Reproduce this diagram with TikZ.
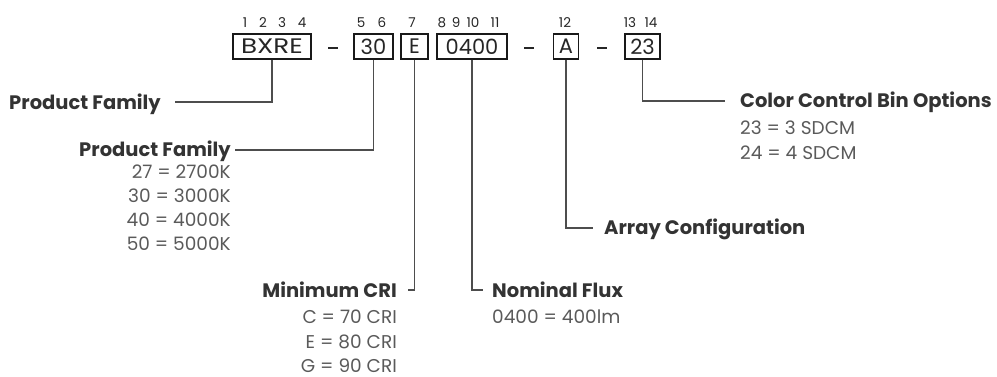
\documentclass[tikz,border=0pt]{standalone}
\usepackage{fontspec}
\setmainfont{Poppins}
\definecolor{lbl}{HTML}{333333}
\definecolor{val}{HTML}{5A5A5A}
\definecolor{ln}{HTML}{4D4D4D}
\begin{document}
\begin{tikzpicture}[x=1pt,y=-1pt,
  codebox/.style={draw=black!90, line width=1.4pt, inner sep=0pt, minimum height=25pt,
     font=\fontsize{21}{21}\selectfont, text=black!85},
  digit/.style={inner sep=0pt, anchor=base, font=\fontsize{13.5}{13.5}\selectfont, text=black!85},
  title/.style={inner sep=0pt, font=\bfseries\fontsize{19.5}{19.5}\selectfont, text=lbl},
  value/.style={inner sep=0pt, font=\fontsize{18.5}{18.5}\selectfont, text=val},
  conn/.style={draw=ln, line width=1.3pt},
  sep/.style={draw=black!85, line width=1.8pt}
]
\useasboundingbox (0,0) rectangle (997,377);
% code boxes
\node[codebox, minimum width=78pt] (bxre) at (272,46.5) {\addfontfeature{FakeStretch=1.25}BXRE};
\node[codebox, minimum width=39pt] (cct) at (373.5,46.5) {30};
\node[codebox, minimum width=27pt] (cri) at (414.5,46.5) {E};
\node[codebox, minimum width=70pt] (flux) at (472,46.5) {0400};
\node[codebox, minimum width=25pt] (arr) at (566,46.5) {A};
\node[codebox, minimum width=35pt] (bin) at (642.5,46.5) {23};
% separators
\coordinate (d1a) at (328,48); \coordinate (d1b) at (338,48);
\coordinate (d2a) at (524,48); \coordinate (d2b) at (534,48);
\coordinate (d3a) at (597,48); \coordinate (d3b) at (607,48);
\draw[sep] (d1a) -- (d1b);
\draw[sep] (d2a) -- (d2b);
\draw[sep] (d3a) -- (d3b);
% position digits
\node[digit] (n1) at (245,28) {1};
\node[digit] (n2) at (263,28) {2};
\node[digit] (n3) at (282,28) {3};
\node[digit] (n4) at (302,28) {4};
\node[digit] (n5) at (361,28) {5};
\node[digit] (n6) at (382,28) {6};
\node[digit] (n7) at (412,28) {7};
\node[digit] (n8) at (442,28) {8};
\node[digit] (n9) at (456,28) {9};
\node[digit] (n10) at (473,28) {10};
\node[digit] (n11) at (495,28) {11};
\node[digit] (n12) at (565,28) {12};
\node[digit] (n13) at (630,28) {13};
\node[digit] (n14) at (651,28) {14};
% titles
\node[title, anchor=base east] (pf1) at (161,110) {Product Family};
\node[title, anchor=base east] (pf2) at (231,157) {Product Family};
\node[value, anchor=base east] (pf2a) at (231,179) {27 = 2700K};
\node[value, anchor=base east] (pf2b) at (231,203) {30 = 3000K};
\node[value, anchor=base east] (pf2c) at (231,227) {40 = 4000K};
\node[value, anchor=base east] (pf2d) at (231,251) {50 = 5000K};
\node[title, anchor=base east] (mcri) at (397,297) {Minimum CRI};
\node[value, anchor=base east] (mcria) at (397,323) {C = 70 CRI};
\node[value, anchor=base east] (mcrib) at (397,348) {E = 80 CRI};
\node[value, anchor=base east] (mcric) at (397,372) {G = 90 CRI};
\node[title, anchor=base west] (nflux) at (492,297) {Nominal Flux};
\node[value, anchor=base west] (nfluxa) at (492,323) {0400 = 400lm};
\node[title, anchor=base west] (acfg) at (604,235) {Array Configuration};
\node[title, anchor=base west] (ccb) at (740,108) {Color Control Bin Options};
\node[value, anchor=base west] (ccba) at (740,135) {23 = 3 SDCM};
\node[value, anchor=base west] (ccbb) at (740,160) {24 = 4 SDCM};
% connectors
\draw[conn] (bxre.south) |- ([xshift=14pt,yshift=8pt]pf1.base east);
\draw[conn] (cct.south) |- ([xshift=4pt,yshift=7pt]pf2.base east);
\draw[conn] (cri.south) |- ([xshift=11pt,yshift=7pt]mcri.base east);
\draw[conn] (flux.south) |- ([xshift=-9pt,yshift=7pt]nflux.base west);
\draw[conn] (arr.south) |- ([xshift=-11pt,yshift=7pt]acfg.base west);
\draw[conn] (bin.south) |- ([xshift=-15pt,yshift=7pt]ccb.base west);
\end{tikzpicture}
\end{document}
